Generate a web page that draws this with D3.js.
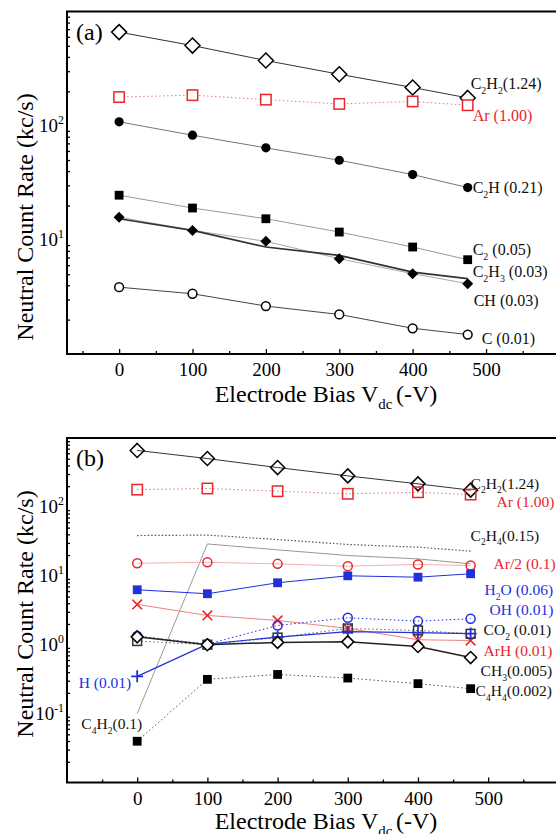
<!DOCTYPE html>
<html>
<head>
<meta charset="UTF-8">
<script src="https://d3js.org/d3.v7.min.js"></script>
<style>
  body { margin: 0; background: #fff; }
  svg { display: block; font-family: 'Liberation Serif', 'Times New Roman', serif; }
</style>
</head>
<body>
<svg id="chart" width="556" height="834"></svg>
<script>
// ---- data (count rates in kc/s) ----
const bias = [0, 100, 200, 300, 400, 475];
const xMajor = [0, 100, 200, 300, 400, 500];

// shared by both panels
const c2h2 = [660, 503, 372, 282, 216, 175];
const ar   = [178, 185, 169, 155, 163, 151];

// panel (a)
const c2h  = [108, 82.5, 63.9, 49.8, 37.3, 28.7];
const c2   = [24.6, 19.0, 15.3, 11.7, 8.65, 6.7];
const c2h3 = [15.8, 12.1, 9.7, 6.84, 5.05, 4.13];
const ch   = [15.3, 12.1, 8.65, 7.3, 5.22, 4.57];
const c    = [3.85, 3.37, 2.63, 2.22, 1.68, 1.48];

// panel (b)
const c2h4 = [38.4, 39.0, 33.6, 28.5, 26.0, 22.8];
const c4h2 = [0.1, 29, 23.8, 19.7, 17.6, 14.9];
const ar2  = [15.2, 15.7, 14.9, 13.8, 14.6, 14.1];
const h2o  = [6.27, 5.49, 7.92, 10.0, 9.55, 10.7];
const arh  = [3.84, 2.66, 2.25, 1.72, 1.18, 1.15];
const oh   = [1.34, 1.02, 1.9, 2.46, 2.2, 2.38];
const co2  = [1.13, 1.0, 1.27, 1.72, 1.61, 1.44];
const hh   = [0.347, 1.02, 1.29, 1.55, 1.5, 1.45];
const ch3  = [1.3, 1.0, 1.08, 1.1, 0.94, 0.65];
const c4h4 = [0.0397, 0.314, 0.37, 0.328, 0.272, 0.23];

const RED = "#e8262c", BLUE = "#2030dd";
const svg = d3.select("#chart");

// text with _{sub} and ^{sup}
function rich(text, s, fs) {
  let shift = 0;
  s.split(/(_\{[^}]*\}|\^\{[^}]*\})/).filter(p => p).forEach(p => {
    let target = 0, str = p, small = false;
    if (p[0] === "_") { target = fs * 0.3; str = p.slice(2, -1); small = true; }
    else if (p[0] === "^") { target = -fs * 0.42; str = p.slice(2, -1); small = true; }
    text.append("tspan").attr("dy", target - shift)
      .attr("font-size", small ? fs * 0.62 : fs).text(str);
    shift = target;
  });
}

function marker(g, m, px, py) {
  const r = m.r;
  let el;
  if (m.shape === "diamond") {
    el = g.append("path").attr("d", `M${px},${py - r}L${px + r},${py}L${px},${py + r}L${px - r},${py}Z`);
  } else if (m.shape === "square") {
    el = g.append("rect").attr("x", px - r).attr("y", py - r).attr("width", 2 * r).attr("height", 2 * r);
  } else if (m.shape === "circle") {
    el = g.append("circle").attr("cx", px).attr("cy", py).attr("r", r);
  } else if (m.shape === "x") {
    el = g.append("path").attr("d", `M${px - r},${py - r}L${px + r},${py + r}M${px - r},${py + r}L${px + r},${py - r}`);
  } else if (m.shape === "plus") {
    el = g.append("path").attr("d", `M${px - r},${py}L${px + r},${py}M${px},${py - r}L${px},${py + r}`);
  }
  el.attr("fill", m.fill || "none").attr("stroke", m.stroke || "none").attr("stroke-width", m.sw || 1.5);
}

function panel(cfg) {
  const x = d3.scaleLinear().domain(cfg.xDomain).range(cfg.xRange);
  const y = d3.scaleLog().domain(cfg.yDomain).range(cfg.yRange);
  const g = svg.append("g");
  const [x0, x1] = cfg.xRange, [yb, yt] = cfg.yRange;

  // ticks (inward)
  const ymaj = [], ymin = [];
  for (let e = Math.round(Math.log10(cfg.yDomain[0])); e < Math.round(Math.log10(cfg.yDomain[1])); e++) {
    ymaj.push(Math.pow(10, e));
    for (let k = 2; k <= 9; k++) ymin.push(k * Math.pow(10, e));
  }
  const axY = g.append("g").attr("transform", `translate(${x0},0)`);
  axY.call(d3.axisLeft(y).tickValues(ymaj.filter(v => v > cfg.yDomain[0])).tickSize(-5).tickFormat(""));
  axY.call(d3.axisLeft(y).tickValues(ymin).tickSize(-3).tickFormat(""));

  const xmin = d3.range(-50, 600, 100);
  const axX = g.append("g").attr("transform", `translate(0,${yb})`);
  axX.call(d3.axisBottom(x).tickValues(xMajor).tickSize(-5).tickPadding(9).tickFormat(d3.format("d")));
  axX.selectAll("text").attr("font-size", 19).attr("fill", "#000")
    .attr("font-family", "'Liberation Serif', serif");
  const axX2 = g.append("g").attr("transform", `translate(0,${yb})`);
  axX2.call(d3.axisBottom(x).tickValues(xmin).tickSize(-3).tickFormat(""));
  g.selectAll(".domain").remove();
  g.selectAll(".tick line").attr("stroke", "#000").attr("stroke-width", 1.3);

  // y tick labels 10^n
  cfg.yLabels.forEach(e => {
    const t = g.append("text").attr("x", x0 - 3).attr("y", y(Math.pow(10, e)) + 6)
      .attr("text-anchor", "end").attr("font-size", 19);
    rich(t, `10^{${e}}`, 19);
  });

  // frame
  g.append("path").attr("d", `M${x1},${yt}H${x0}V${yb}H${x1}`)
    .attr("fill", "none").attr("stroke", "#000").attr("stroke-width", 2);

  // series
  const line = d3.line().x((d, i) => x(bias[i])).y(d => y(d));
  cfg.series.forEach(s => {
    g.append("path").datum(s.values).attr("d", line)
      .attr("fill", "none").attr("stroke", s.line.color).attr("stroke-width", s.line.w || 1)
      .attr("stroke-dasharray", s.line.dash || null);
  });
  cfg.series.forEach(s => {
    if (!s.marker) return;
    s.values.forEach((v, i) => marker(g, s.marker, x(bias[i]), y(v)));
  });
  cfg.series.forEach(s => {
    if (!s.label) return;
    const i = s.labelAt === "first" ? 0 : bias.length - 1;
    const t = g.append("text")
      .attr("x", x(bias[i]) + s.dx).attr("y", y(s.values[i]) + s.dy + 5.5)
      .attr("text-anchor", s.anchor || "start")
      .attr("fill", s.color || "#111").attr("font-size", cfg.labelSize);
    rich(t, s.label, cfg.labelSize);
  });

  // panel tag
  g.append("text").attr("x", x0 + 9).attr("y", yt + 28).attr("font-size", 24).text(cfg.tag);

  // axis titles
  g.append("text").attr("transform", `translate(33,${cfg.yTitleY}) rotate(-90)`)
    .attr("text-anchor", "middle").attr("font-size", 24).text("Neutral Count Rate (kc/s)");
  const xt = g.append("text").attr("x", 326).attr("y", cfg.xTitleY)
    .attr("text-anchor", "middle").attr("font-size", 24);
  rich(xt, "Electrode Bias V_{dc}^{ }(-V)", 24);
}

panel({
  tag: "(a)", labelSize: 16,
  xDomain: [-71, 620], xRange: [67, 574.1],
  yDomain: [1, 1000], yRange: [354, 11.5],
  yLabels: [1, 2],
  yTitleY: 217, xTitleY: 402,
  series: [
    { values: c2h2, line: { color: "#333" }, marker: { shape: "diamond", r: 7.5, fill: "#fff", stroke: "#000" },
      label: "C_{2}H_{2}(1.24)", dx: 3, dy: -14 },
    { values: ar, line: { color: "#f07a7a", dash: "1.5,2.5" }, marker: { shape: "square", r: 5.2, fill: "#fff", stroke: RED },
      label: "Ar (1.00)", color: RED, dx: 5, dy: 10 },
    { values: c2h, line: { color: "#777" }, marker: { shape: "circle", r: 4.6, fill: "#000" },
      label: "C_{2}H (0.21)", dx: 5, dy: 0 },
    { values: c2, line: { color: "#999" }, marker: { shape: "square", r: 4.4, fill: "#000" },
      label: "C_{2} (0.05)", dx: 5, dy: -10 },
    { values: c2h3, line: { color: "#aaa" }, marker: { shape: "diamond", r: 5.5, fill: "#000" },
      label: "C_{2}H_{3} (0.03)", dx: 5, dy: -12 },
    { values: ch, line: { color: "#333", w: 1.7 },
      label: "CH (0.03)", dx: 6, dy: 22 },
    { values: c, line: { color: "#444" }, marker: { shape: "circle", r: 4.4, fill: "#fff", stroke: "#000" },
      label: "C (0.01)", dx: 14, dy: 4 }
  ]
});

panel({
  tag: "(b)", labelSize: 15.5,
  xDomain: [-100, 620], xRange: [67, 572.4],
  yDomain: [0.01, 1000], yRange: [782.5, 438],
  yLabels: [-1, 0, 1, 2],
  yTitleY: 614, xTitleY: 829,
  series: [
    { values: c2h4, line: { color: "#555", dash: "1.5,2", w: 1.2 },
      label: "C_{2}H_{4}(0.15)", dx: 0, dy: -16 },
    { values: c4h2, line: { color: "#999" },
      label: "C_{4}H_{2}(0.1)", labelAt: "first", anchor: "end", dx: 5, dy: 10 },
    { values: c2h2, line: { color: "#333" }, marker: { shape: "diamond", r: 7, fill: "none", stroke: "#000" },
      label: "C_{2}H_{2}(1.24)", dx: 0, dy: -7 },
    { values: ar, line: { color: "#f07a7a", dash: "1.5,2.5" }, marker: { shape: "square", r: 5.2, fill: "none", stroke: RED },
      label: "Ar (1.00)", color: RED, dx: 26, dy: 7 },
    { values: ar2, line: { color: "#f6b0b0" }, marker: { shape: "circle", r: 4.5, fill: "none", stroke: RED },
      label: "Ar/2 (0.1)", color: RED, dx: 23, dy: -2 },
    { values: h2o, line: { color: BLUE }, marker: { shape: "square", r: 4.4, fill: BLUE },
      label: "H_{2}O (0.06)", color: BLUE, dx: 14, dy: 16 },
    { values: arh, line: { color: "#f08080" }, marker: { shape: "x", r: 4.8, stroke: RED, sw: 1.6 },
      label: "ArH (0.01)", color: RED, dx: 13, dy: 10 },
    { values: oh, line: { color: BLUE, dash: "1.5,2.5" }, marker: { shape: "circle", r: 4.5, fill: "none", stroke: BLUE },
      label: "OH (0.01)", color: BLUE, dx: 19, dy: -9 },
    { values: co2, line: { color: "#666", dash: "1.5,2.5" }, marker: { shape: "square", r: 4.4, fill: "none", stroke: "#333" },
      label: "CO_{2} (0.01)", dx: 13, dy: -4 },
    { values: hh, line: { color: BLUE, w: 1.2 }, marker: { shape: "plus", r: 6, stroke: BLUE, sw: 1.8 },
      label: "H (0.01)", color: BLUE, labelAt: "first", anchor: "end", dx: -6, dy: 6 },
    { values: ch3, line: { color: "#222", w: 1.5 }, marker: { shape: "diamond", r: 6, fill: "#fff", stroke: "#000" },
      label: "CH_{3}(0.005)", dx: 10, dy: 13 },
    { values: c4h4, line: { color: "#555", dash: "1.5,2.5" }, marker: { shape: "square", r: 4.4, fill: "#000" },
      label: "C_{4}H_{4}(0.002)", dx: 5, dy: 2 }
  ]
});
</script>
</body>
</html>
